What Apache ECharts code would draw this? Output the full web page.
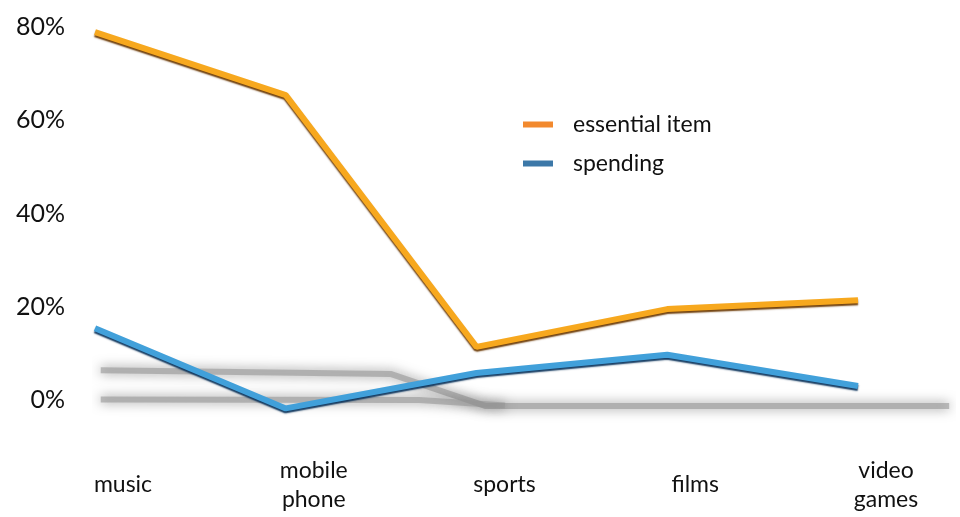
<!DOCTYPE html>
<html>
<head>
<meta charset="utf-8">
<script src="https://cdn.jsdelivr.net/npm/echarts@6/dist/echarts.min.js"></script>
<style>
  html, body { margin: 0; padding: 0; background: #fff; }
  #chart { width: 960px; height: 517px; }
</style>
</head>
<body>
<div id="chart"></div>
<script>
// Categories along the x axis
const categories = ['music', 'mobile\nphone', 'sports', 'films', 'video\ngames'];

// Share of respondents (%)
const essentialItem = [78.9, 65.4, 11.4, 19.5, 21.4];
const spending = [15.4, -1.8, 5.8, 9.7, 3.0];

// Soft floor shadows under the lines, as [position, %] pairs
const floorShadowUpper = [[0.03, 6.4], [1.55, 5.6], [2.05, -1.3], [4.48, -1.3]];
const floorShadowLower = [[0.03, 0.1], [1.7, 0.0], [2.15, -1.2]];

// Value axis ticks
const yTicks = [0, 20, 40, 60, 80];

const FONT = 'Lato, "Open Sans", sans-serif';

const chart = echarts.init(document.getElementById('chart'));

function shadowSeries(data) {
  return {
    type: 'line',
    xAxisIndex: 1,
    yAxisIndex: 1,
    data: data,
    symbol: 'none',
    silent: true,
    clip: false,
    z: 1,
    lineStyle: {
      color: 'rgba(150,150,150,0.6)',
      width: 6,
      shadowColor: 'rgba(80,80,80,1)',
      shadowBlur: 12
    }
  };
}

const hiddenAxis = { show: false };

chart.setOption({
  backgroundColor: '#ffffff',
  animation: false,
  grid: [
    { left: 95, right: 102, top: 27, bottom: 117 },
    // wider layer for the floor shadows, same vertical scale
    { left: 95, right: 7, top: 27, bottom: 117 }
  ],
  legend: {
    orient: 'vertical',
    left: 518,
    top: 108,
    itemWidth: 30,
    itemHeight: 6,
    itemGap: 16,
    icon: 'rect',
    textStyle: { fontFamily: FONT, fontSize: 23, color: '#111', padding: [0, 0, 0, 15] },
    data: [
      { name: 'essential item', itemStyle: { color: '#F2892E' } },
      { name: 'spending', itemStyle: { color: '#3C78A8' } }
    ]
  },
  xAxis: [
    {
      type: 'category',
      data: categories,
      boundaryGap: false,
      axisLine: { show: false },
      axisTick: { show: false },
      splitLine: { show: false },
      axisLabel: {
        margin: 85,
        verticalAlign: 'middle',
        fontFamily: FONT,
        fontSize: 23,
        lineHeight: 29,
        color: '#111',
        padding: [0, 0, 0, 56]
      }
    },
    Object.assign({ type: 'value', gridIndex: 1, min: 0, max: 4.5 }, hiddenAxis)
  ],
  yAxis: [
    {
      type: 'value',
      min: 0,
      max: 80,
      interval: 20,
      axisLine: { show: false },
      axisTick: { show: false },
      splitLine: { show: false },
      axisLabel: {
        margin: 30,
        fontFamily: FONT,
        fontSize: 25,
        color: '#111',
        formatter: v => yTicks.includes(v) ? v + '%' : ''
      }
    },
    Object.assign({ type: 'value', gridIndex: 1, min: 0, max: 80 }, hiddenAxis)
  ],
  series: [
    shadowSeries(floorShadowUpper),
    shadowSeries(floorShadowLower),
    {
      name: 'essential item',
      type: 'line',
      data: essentialItem,
      symbol: 'none',
      clip: false,
      z: 3,
      lineStyle: {
        color: '#F7A81E',
        width: 6,
        shadowColor: 'rgba(105,55,0,0.95)',
        shadowBlur: 1.5,
        shadowOffsetY: 2
      }
    },
    {
      name: 'spending',
      type: 'line',
      data: spending,
      symbol: 'none',
      clip: false,
      z: 3,
      lineStyle: {
        color: '#41A0DA',
        width: 6,
        shadowColor: 'rgba(10,50,90,0.95)',
        shadowBlur: 1.5,
        shadowOffsetY: 2
      }
    }
  ]
});
</script>
</body>
</html>
